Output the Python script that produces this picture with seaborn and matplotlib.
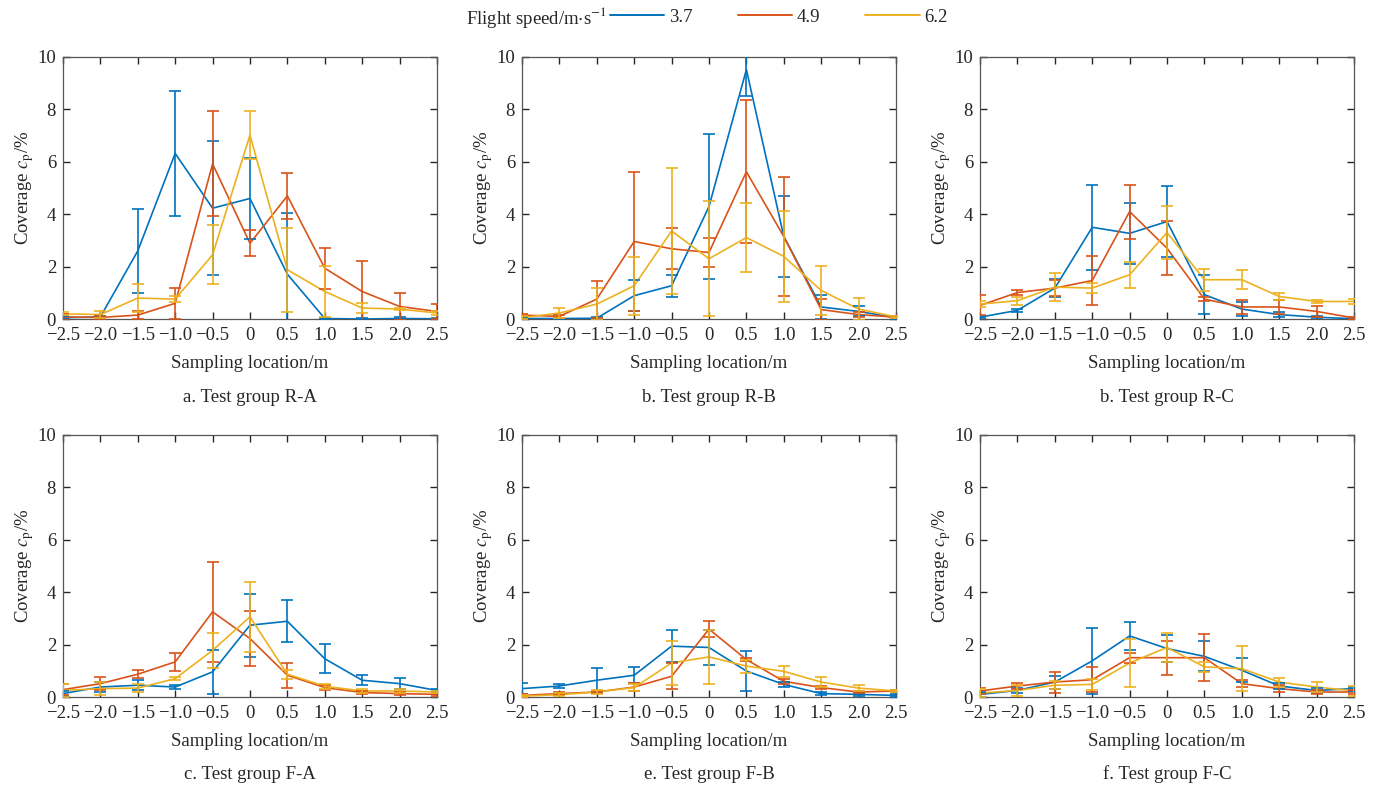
import numpy as np
import pandas as pd
import seaborn as sns
import matplotlib.pyplot as plt
from matplotlib.lines import Line2D

# Sampling locations (m) and flight speeds (m/s)
locations = [-2.5, -2.0, -1.5, -1.0, -0.5, 0.0, 0.5, 1.0, 1.5, 2.0, 2.5]
x_tick_labels = ['\u22122.5', '\u22122.0', '\u22121.5', '\u22121.0', '\u22120.5', '0',
                 '0.5', '1.0', '1.5', '2.0', '2.5']
speeds = ['3.7', '4.9', '6.2']
panels = ['R-A', 'R-B', 'R-C', 'F-A', 'F-B', 'F-C']
captions = ['a. Test group R-A', 'b. Test group R-B', 'b. Test group R-C',
            'c. Test group F-A', 'e. Test group F-B', 'f. Test group F-C']

# mean coverage (%) and error half-width
ra_37 = [0.05, 0.08, 2.6, 6.32, 4.23, 4.6, 1.71, 0.02, 0.0, 0.02, 0.01]
ra_37_err = [0.05, 0.05, 1.6, 2.4, 2.55, 1.55, 2.35, 0.03, 0.02, 0.05, 0.03]
ra_49 = [0.08, 0.06, 0.15, 0.6, 5.92, 2.89, 4.7, 1.94, 1.05, 0.48, 0.29]
ra_49_err = [0.1, 0.05, 0.15, 0.6, 2.0, 0.5, 0.87, 0.78, 1.17, 0.5, 0.28]
ra_62 = [0.2, 0.17, 0.8, 0.76, 2.45, 7.02, 1.88, 1.05, 0.42, 0.38, 0.23]
ra_62_err = [0.05, 0.13, 0.55, 0.1, 1.13, 0.9, 1.6, 0.98, 0.18, 0.05, 0.08]

rb_37 = [0.02, 0.02, 0.03, 0.89, 1.27, 4.29, 9.52, 3.15, 0.46, 0.29, 0.05]
rb_37_err = [0.03, 0.03, 0.05, 0.6, 0.42, 2.76, 1.0, 1.54, 0.47, 0.19, 0.05]
rb_49 = [0.15, 0.1, 0.76, 2.96, 2.68, 2.54, 5.62, 3.15, 0.36, 0.17, 0.07]
rb_49_err = [0.05, 0.05, 0.71, 2.66, 0.78, 0.57, 2.73, 2.28, 0.4, 0.1, 0.05]
rb_62 = [0.05, 0.23, 0.57, 1.27, 3.36, 2.3, 3.11, 2.39, 1.09, 0.38, 0.08]
rb_62_err = [0.05, 0.2, 0.6, 1.1, 2.39, 2.2, 1.33, 1.75, 0.93, 0.42, 0.05]

rc_37 = [0.07, 0.33, 1.18, 3.5, 3.27, 3.72, 0.93, 0.38, 0.17, 0.07, 0.01]
rc_37_err = [0.05, 0.07, 0.35, 1.63, 1.17, 1.37, 0.74, 0.27, 0.1, 0.05, 0.02]
rc_49 = [0.52, 1.01, 1.18, 1.47, 4.1, 2.7, 0.76, 0.46, 0.46, 0.29, 0.04]
rc_49_err = [0.38, 0.1, 0.32, 0.95, 1.03, 1.03, 0.08, 0.25, 0.27, 0.2, 0.04]
rc_62 = [0.57, 0.7, 1.22, 1.18, 1.69, 3.3, 1.5, 1.5, 0.86, 0.67, 0.67]
rc_62_err = [0.1, 0.15, 0.52, 0.2, 0.5, 1.0, 0.42, 0.36, 0.15, 0.05, 0.1]

fa_37 = [0.13, 0.38, 0.45, 0.38, 0.96, 2.74, 2.89, 1.46, 0.64, 0.51, 0.25]
fa_37_err = [0.1, 0.2, 0.2, 0.08, 0.85, 1.2, 0.8, 0.56, 0.19, 0.22, 0.06]
fa_49 = [0.28, 0.51, 0.87, 1.34, 3.25, 2.23, 0.83, 0.36, 0.17, 0.13, 0.1]
fa_49_err = [0.2, 0.25, 0.16, 0.33, 1.9, 1.04, 0.47, 0.08, 0.05, 0.05, 0.05]
fa_62 = [0.25, 0.32, 0.34, 0.7, 1.78, 3.06, 0.87, 0.41, 0.23, 0.23, 0.19]
fa_62_err = [0.25, 0.25, 0.15, 0.05, 0.67, 1.33, 0.17, 0.1, 0.08, 0.06, 0.05]

fb_37 = [0.32, 0.42, 0.64, 0.83, 1.94, 1.89, 0.99, 0.48, 0.13, 0.1, 0.06]
fb_37_err = [0.22, 0.06, 0.47, 0.3, 0.6, 0.65, 0.75, 0.08, 0.05, 0.05, 0.05]
fb_49 = [0.06, 0.13, 0.19, 0.38, 0.79, 2.59, 1.43, 0.6, 0.36, 0.19, 0.23]
fb_49_err = [0.05, 0.05, 0.05, 0.15, 0.5, 0.3, 0.05, 0.1, 0.05, 0.05, 0.05]
fb_62 = [0.03, 0.09, 0.19, 0.36, 1.3, 1.53, 1.18, 0.98, 0.57, 0.34, 0.23]
fb_62_err = [0.03, 0.05, 0.08, 0.15, 0.83, 1.03, 0.25, 0.2, 0.19, 0.1, 0.05]

fc_37 = [0.1, 0.25, 0.57, 1.38, 2.33, 1.85, 1.55, 1.02, 0.42, 0.25, 0.32]
fc_37_err = [0.1, 0.1, 0.25, 1.25, 0.53, 0.51, 0.57, 0.45, 0.1, 0.1, 0.08]
fc_49 = [0.23, 0.42, 0.57, 0.66, 1.5, 1.5, 1.5, 0.51, 0.32, 0.19, 0.19]
fc_49_err = [0.1, 0.1, 0.4, 0.47, 0.19, 0.65, 0.89, 0.13, 0.12, 0.06, 0.08]
fc_62 = [0.15, 0.25, 0.45, 0.48, 1.3, 1.89, 1.15, 1.08, 0.57, 0.38, 0.23]
fc_62_err = [0.15, 0.2, 0.15, 0.22, 0.93, 0.57, 0.2, 0.87, 0.17, 0.2, 0.2]

values = {
    'R-A': [(ra_37, ra_37_err), (ra_49, ra_49_err), (ra_62, ra_62_err)],
    'R-B': [(rb_37, rb_37_err), (rb_49, rb_49_err), (rb_62, rb_62_err)],
    'R-C': [(rc_37, rc_37_err), (rc_49, rc_49_err), (rc_62, rc_62_err)],
    'F-A': [(fa_37, fa_37_err), (fa_49, fa_49_err), (fa_62, fa_62_err)],
    'F-B': [(fb_37, fb_37_err), (fb_49, fb_49_err), (fb_62, fb_62_err)],
    'F-C': [(fc_37, fc_37_err), (fc_49, fc_49_err), (fc_62, fc_62_err)],
}

rows = []
for p in panels:
    for s, (v, e) in zip(speeds, values[p]):
        for x, y, err in zip(locations, v, e):
            rows.append({'panel': p, 'location': x, 'speed': s, 'coverage': y, 'err': err})
df = pd.DataFrame(rows)

colors = {'3.7': '#0072BD', '4.9': '#D95319', '6.2': '#EDB120'}

sns.set_style('ticks')
plt.rcParams['font.family'] = ['Liberation Serif', 'DejaVu Serif']
plt.rcParams['mathtext.fontset'] = 'stix'

fig = plt.figure(figsize=(13.78, 7.85), dpi=100)

lefts = [0.0457, 0.3788, 0.7112]
bottoms = [0.5936, 0.1121]
w, h = 0.2714, 0.3338

for i, p in enumerate(panels):
    ax = fig.add_axes([lefts[i % 3], bottoms[i // 3], w, h])
    sub = df[df['panel'] == p]
    sns.lineplot(data=sub, x='location', y='coverage', hue='speed', palette=colors,
                 hue_order=speeds, linewidth=1.2, legend=False, ax=ax, zorder=3)
    for s in speeds:
        d = sub[sub['speed'] == s]
        ax.errorbar(d['location'], d['coverage'], yerr=d['err'], fmt='none',
                    ecolor=colors[s], elinewidth=1.2, capsize=4, capthick=1.2, zorder=3)
    ax.set_xlim(-2.5, 2.5)
    ax.set_ylim(0, 10)
    ax.set_xticks(locations)
    ax.set_xticklabels(x_tick_labels)
    ax.set_yticks([0, 2, 4, 6, 8, 10])
    ax.tick_params(direction='in', top=True, right=True, labelsize=13.5,
                   colors='#262626', length=5, width=1)
    ax.tick_params(axis='x', pad=6)
    ax.tick_params(axis='y', pad=5)
    for sp in ax.spines.values():
        sp.set_visible(True)
        sp.set_color('#555555')
        sp.set_linewidth(0.9)
    ax.set_xlabel('Sampling location/m', fontsize=13.5, labelpad=8)
    ax.set_ylabel('Coverage $c_\\mathrm{p}$/%', fontsize=13.5, labelpad=1)
    cx = lefts[i % 3] + w / 2
    cy = 0.494 if i < 3 else 0.0135
    fig.text(cx, cy, captions[i], ha='center', va='center', fontsize=13.5)

# legend across the top
fig.text(0.4405, 0.978, 'Flight speed/m$\\cdot$s$^{-1}$', ha='right', va='center', fontsize=13.5)
handles = [Line2D([], [], color=colors[s], linewidth=1.4) for s in speeds]
fig.legend(handles, speeds, loc='center left', bbox_to_anchor=(0.4427, 0.978),
           ncol=3, frameon=False, fontsize=13.5, handlelength=2.9, columnspacing=2.4,
           handletextpad=0.25, borderaxespad=0, borderpad=0)

fig.savefig('out.png', dpi=100)
